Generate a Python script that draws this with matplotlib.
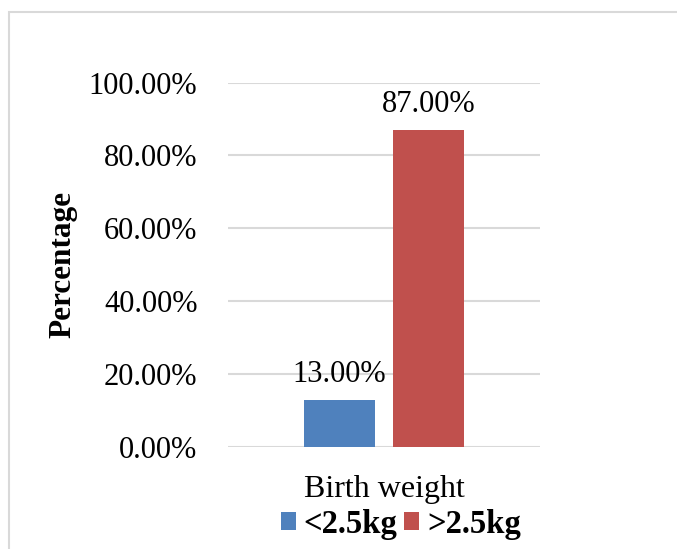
import matplotlib.pyplot as plt
from matplotlib.patches import Rectangle
from matplotlib.ticker import FuncFormatter

# datos del grafico
category = ["Birth weight"]
groups = ["<2.5kg", ">2.5kg"]
values = [0.13, 0.87]
colors = ["#4F81BD", "#C0504D"]
yticks = [0.0, 0.2, 0.4, 0.6, 0.8, 1.0]

plt.rcParams['font.family'] = ['Liberation Serif', 'DejaVu Serif']

fig = plt.figure(figsize=(6.77, 5.49), dpi=100)
ax = fig.add_axes([228 / 677, 1 - 447 / 549, 312 / 677, (447 - 82.5) / 549])

# marco exterior del grafico
fig.patches.append(Rectangle((9 / 677, -0.1), 1.2, 1 - 11.5 / 549 + 0.1,
                             transform=fig.transFigure, fill=False,
                             edgecolor="#d9d9d9", linewidth=1.5))

width = 0.228
offsets = [-0.1426, 0.1426]
for g, v, c, off in zip(groups, values, colors, offsets):
    ax.bar(off, v, width=width, color=c, label=g, zorder=3)
    ax.annotate(f"{v * 100:.2f}%", (off, v), xytext=(0, 8),
                textcoords="offset points", ha="center", va="bottom",
                fontsize=22)

ax.set_xlim(-0.5, 0.5)
ax.set_ylim(0, 1)
ax.set_yticks(yticks)
ax.yaxis.set_major_formatter(FuncFormatter(lambda y, _: f"{y * 100:.2f}%"))
ax.set_xticks([0])
ax.set_xticklabels(category)
ax.tick_params(axis="y", length=0, pad=22, labelsize=22)
ax.tick_params(axis="x", length=0, pad=20, labelsize=23)
ax.grid(axis="y", color="#d9d9d9", linewidth=1.5, zorder=0)
for s in ax.spines.values():
    s.set_visible(False)

fig.text(63 / 677, 1 - 265 / 549, "Percentage", rotation=90, ha="center",
         va="center", fontsize=22.5, fontweight="bold")

fig.legend(loc="center", bbox_to_anchor=(401 / 677, 1 - 524 / 549), ncol=2,
           frameon=False, prop={"size": 23.5, "weight": "bold"},
           handlelength=0.45, handleheight=0.45, handletextpad=0.25,
           columnspacing=0.2)

fig.savefig("out.png", dpi=100)
